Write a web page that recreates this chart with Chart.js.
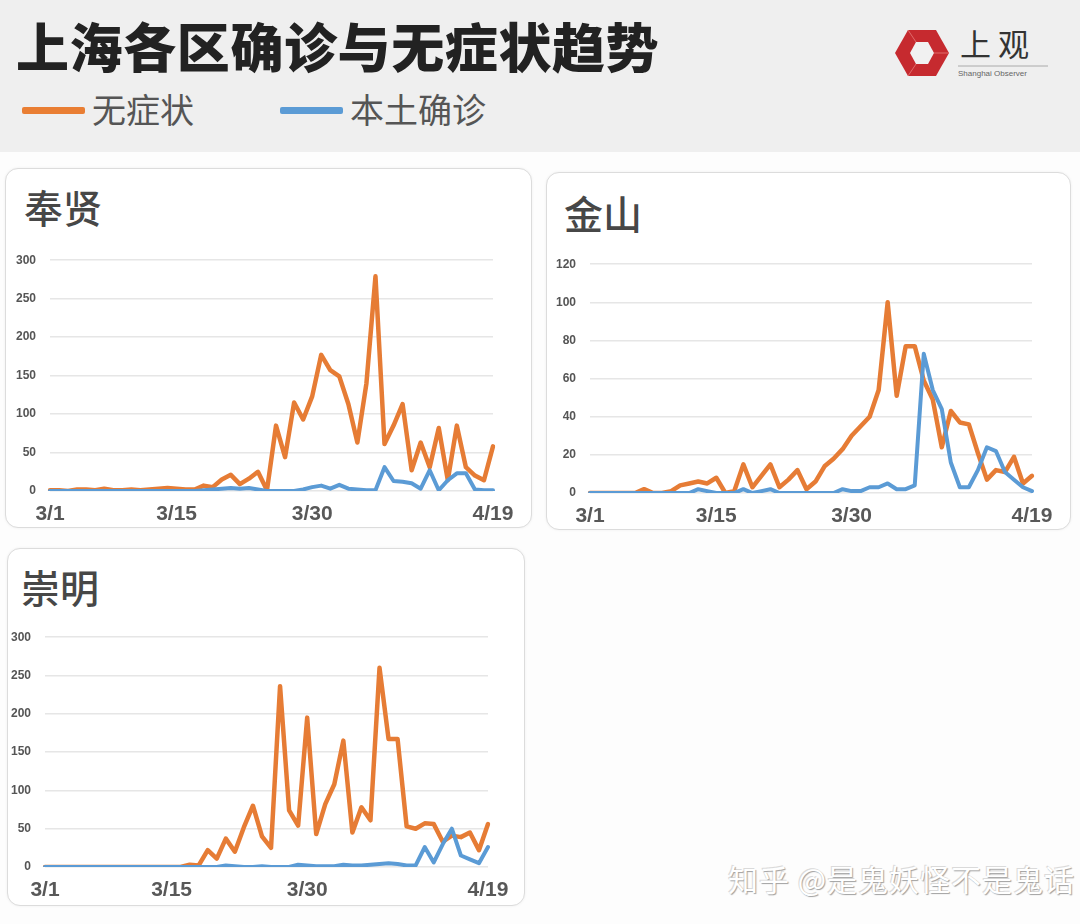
<!DOCTYPE html>
<html>
<head>
<meta charset="utf-8">
<script src="https://cdn.jsdelivr.net/npm/chart.js@4.4.1/dist/chart.umd.min.js"></script>
<style>
  html, body { margin: 0; padding: 0; }
  body { width: 1080px; height: 924px; background: #fdfdfd; position: relative; overflow: hidden;
         font-family: "Noto Sans CJK SC", "Noto Sans", sans-serif; }
  .header { position: absolute; left: 0; top: 0; width: 1080px; height: 152px; background: #efefef; }
  .title { position: absolute; left: 16px; top: 7px; font-size: 53px; font-weight: 900; color: #222; letter-spacing: 0.6px; }
  .leg { position: absolute; top: 84px; font-size: 34px; color: #555; }
  .leg .bar { position: absolute; top: 23px; width: 63px; height: 7px; border-radius: 2px; }
  .card { position: absolute; background: #fff; border: 1.5px solid #dcdcdc; border-radius: 13px;
          box-shadow: 0 0 3px rgba(0,0,0,0.06); }
  .ptitle { position: absolute; font-size: 39px; font-weight: 500; color: #474747; }
  canvas { position: absolute; }
  .wm { position: absolute; left: 728px; top: 856px; font-size: 30px; color: #fff;
        text-shadow: 1px 1px 1px #a0a0a0, -1px -1px 0 #dadada; letter-spacing: 1px; }
</style>
</head>
<body>
<div class="header"></div>
<div class="title">上海各区确诊与无症状趋势</div>
<div class="leg" style="left:22px;"><span class="bar" style="left:0;background:#E97E33;"></span><span style="margin-left:70px;">无症状</span></div>
<div class="leg" style="left:280px;"><span class="bar" style="left:0;background:#5B9BD5;"></span><span style="margin-left:70px;">本土确诊</span></div>

<svg style="position:absolute;left:890px;top:22px;" width="170" height="62" viewBox="0 0 170 62">
  <polygon points="5,31 18,8 46,8 59,31 46,54 18,54" fill="#c62a2f"/>
  <polygon points="20,31 26,20 38,20 44,31 38,42 26,42" fill="#f1f1f1"/>
  <line x1="18" y1="8" x2="26" y2="20" stroke="#e06a6a" stroke-width="1"/>
  <line x1="59" y1="31" x2="44" y2="31" stroke="#e06a6a" stroke-width="1"/>
  <line x1="18" y1="54" x2="26" y2="42" stroke="#e06a6a" stroke-width="1"/>
  <line x1="68" y1="44" x2="158" y2="44" stroke="#999" stroke-width="0.8"/>
  <text x="70" y="34" font-size="31" fill="#333" font-family="Noto Sans CJK SC">上 观</text>
  <text x="68" y="54" font-size="8" fill="#666" font-family="Liberation Sans">Shanghai Observer</text>
</svg>

<div class="card" style="left:5px;top:168px;width:525px;height:358px;"></div>
<div class="card" style="left:546px;top:172px;width:523px;height:356px;"></div>
<div class="card" style="left:7px;top:548px;width:516px;height:356px;"></div>

<div class="ptitle" style="left:24px;top:178px;">奉贤</div>
<div class="ptitle" style="left:564px;top:184px;">金山</div>
<div class="ptitle" style="left:21px;top:558px;">崇明</div>

<canvas id="fengxian" width="525" height="286" style="left:5px;top:239px;"></canvas>
<canvas id="jinshan" width="524" height="287" style="left:546px;top:243px;"></canvas>
<canvas id="chongming" width="518" height="286" style="left:2px;top:616px;"></canvas>

<div class="wm">知乎 @是鬼妖怪不是鬼话</div>

<script>
const dates = [
  '3/1','3/2','3/3','3/4','3/5','3/6','3/7','3/8','3/9','3/10',
  '3/11','3/12','3/13','3/14','3/15','3/16','3/17','3/18','3/19','3/20',
  '3/21','3/22','3/23','3/24','3/25','3/26','3/27','3/28','3/29','3/30',
  '3/31','4/1','4/2','4/3','4/4','4/5','4/6','4/7','4/8','4/9',
  '4/10','4/11','4/12','4/13','4/14','4/15','4/16','4/17','4/18','4/19'
];
const xTickLabels = ['3/1', '3/15', '3/30', '4/19'];

// 奉贤
const fengxianAsym = [1,1,0,2,2,1,3,1,1,2, 1,2,3,4,3,2,2,7,5,15, 21,9,16,25,1,85,44,115,93,123,
  177,157,149,113,63,140,279,61,85,113, 27,63,31,82,14,85,31,20,14,58];
const fengxianConf = [0,0,0,0,0,0,0,0,0,0, 0,0,0,0,0,0,0,1,2,3, 4,3,4,2,0,0,0,0,2,5,
  7,3,8,3,2,1,1,31,13,12, 10,3,27,1,14,23,23,2,1,1];

// 金山
const jinshanAsym = [0,0,0,0,0,0,2,0,0,1, 4,5,6,5,8,0,1,15,3,9, 15,3,7,12,2,6,14,18,23,30,
  35,40,54,100,51,77,77,59,49,24, 43,37,36,21,7,12,11,19,5,9];
const jinshanConf = [0,0,0,0,0,0,0,0,0,0, 0,0,2,1,0,0,0,2,0,1, 2,0,0,0,0,0,0,0,2,1,
  1,3,3,5,2,2,4,73,54,44, 16,3,3,12,24,22,11,7,3,1];

// 崇明
const chongmingAsym = [0,0,0,0,0,0,0,0,0,0, 0,0,0,0,0,0,3,2,22,11, 37,20,52,80,40,25,236,74,54,195,
  43,82,108,165,45,78,61,260,167,167, 53,50,57,56,33,41,39,45,22,56];
const chongmingConf = [0,0,0,0,0,0,0,0,0,0, 0,0,0,0,0,0,0,0,0,0, 2,1,0,0,1,0,0,0,3,2,
  1,1,1,3,2,2,3,4,5,4, 2,2,26,6,30,50,15,10,5,26];

const ORANGE = '#E67C35';
const BLUE = '#5B9BD5';

function buildChart(id, asym, conf, yMax, yStep, pad) {
  return new Chart(document.getElementById(id), {
    type: 'line',
    data: {
      labels: dates,
      datasets: [
        { label: '本土确诊', data: conf, borderColor: BLUE, borderWidth: 4, pointRadius: 0, tension: 0,
          borderJoinStyle: 'round', borderCapStyle: 'round', order: 0 },
        { label: '无症状', data: asym, borderColor: ORANGE, borderWidth: 4.5, pointRadius: 0, tension: 0,
          borderJoinStyle: 'round', borderCapStyle: 'round', order: 1 }
      ]
    },
    options: {
      responsive: false,
      animation: false,
      layout: { padding: pad },
      plugins: { legend: { display: false }, tooltip: { enabled: false } },
      scales: {
        x: {
          grid: { display: false },
          border: { display: false },
          ticks: {
            autoSkip: false, maxRotation: 0, minRotation: 0, padding: 3,
            color: '#585858',
            font: { family: 'Liberation Sans', size: 21, weight: 'bold' },
            callback: (v, i) => xTickLabels.includes(dates[i]) ? dates[i] : ''
          },
          afterFit: s => { s.height = 30; }
        },
        y: {
          min: 0, max: yMax,
          grid: { color: '#e6e6e6', lineWidth: 1.6, drawTicks: false },
          border: { display: false },
          ticks: {
            stepSize: yStep, padding: 14, color: '#555',
            font: { family: 'Liberation Sans', size: 12, weight: 'bold' }
          },
          afterFit: s => { s.width = 40; }
        }
      }
    }
  });
}

buildChart('fengxian', fengxianAsym, fengxianConf, 300, 50, { left: 5, top: 8, right: 37, bottom: 4 });
buildChart('jinshan', jinshanAsym, jinshanConf, 120, 20, { left: 4, top: 6, right: 38, bottom: 7 });
buildChart('chongming', chongmingAsym, chongmingConf, 300, 50, { left: 3, top: 8, right: 32, bottom: 5 });
</script>
</body>
</html>
